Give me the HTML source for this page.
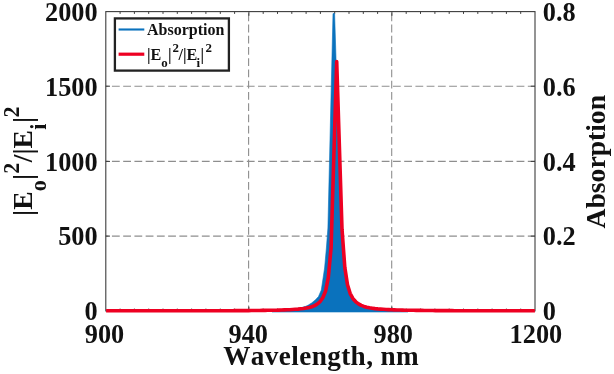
<!DOCTYPE html>
<html><head><meta charset="utf-8"><title>chart</title><style>html,body{margin:0;padding:0;background:#fff}svg{display:block;will-change:transform}</style></head><body>
<svg width="614" height="374" viewBox="0 0 614 374">
<rect width="614" height="374" fill="#fff"/>
<line x1="248.6" y1="11.6" x2="248.6" y2="310.9" stroke="#8e8e8e" stroke-width="1.1" stroke-dasharray="7.8 3.44" stroke-dashoffset="9.5"/>
<line x1="391.7" y1="11.6" x2="391.7" y2="310.9" stroke="#8e8e8e" stroke-width="1.1" stroke-dasharray="7.8 3.44" stroke-dashoffset="9.5"/>
<line x1="105.8" y1="86.2" x2="535.0" y2="86.2" stroke="#8e8e8e" stroke-width="1.1" stroke-dasharray="7.8 3.44" stroke-dashoffset="5.1"/>
<line x1="105.8" y1="161.4" x2="535.0" y2="161.4" stroke="#8e8e8e" stroke-width="1.1" stroke-dasharray="7.8 3.44" stroke-dashoffset="5.1"/>
<line x1="105.8" y1="236.1" x2="535.0" y2="236.1" stroke="#8e8e8e" stroke-width="1.1" stroke-dasharray="7.8 3.44" stroke-dashoffset="5.1"/>
<rect x="105.8" y="11.6" width="429.2" height="299.3" fill="none" stroke="#3c3c3c" stroke-width="1.1"/>
<line x1="120.1" y1="11.6" x2="120.1" y2="13.9" stroke="#3c3c3c" stroke-width="1"/>
<line x1="120.1" y1="310.9" x2="120.1" y2="308.6" stroke="#3c3c3c" stroke-width="1"/>
<line x1="134.4" y1="11.6" x2="134.4" y2="13.9" stroke="#3c3c3c" stroke-width="1"/>
<line x1="134.4" y1="310.9" x2="134.4" y2="308.6" stroke="#3c3c3c" stroke-width="1"/>
<line x1="148.7" y1="11.6" x2="148.7" y2="13.9" stroke="#3c3c3c" stroke-width="1"/>
<line x1="148.7" y1="310.9" x2="148.7" y2="308.6" stroke="#3c3c3c" stroke-width="1"/>
<line x1="163.0" y1="11.6" x2="163.0" y2="13.9" stroke="#3c3c3c" stroke-width="1"/>
<line x1="163.0" y1="310.9" x2="163.0" y2="308.6" stroke="#3c3c3c" stroke-width="1"/>
<line x1="177.3" y1="11.6" x2="177.3" y2="13.9" stroke="#3c3c3c" stroke-width="1"/>
<line x1="177.3" y1="310.9" x2="177.3" y2="308.6" stroke="#3c3c3c" stroke-width="1"/>
<line x1="191.6" y1="11.6" x2="191.6" y2="13.9" stroke="#3c3c3c" stroke-width="1"/>
<line x1="191.6" y1="310.9" x2="191.6" y2="308.6" stroke="#3c3c3c" stroke-width="1"/>
<line x1="205.9" y1="11.6" x2="205.9" y2="13.9" stroke="#3c3c3c" stroke-width="1"/>
<line x1="205.9" y1="310.9" x2="205.9" y2="308.6" stroke="#3c3c3c" stroke-width="1"/>
<line x1="220.3" y1="11.6" x2="220.3" y2="13.9" stroke="#3c3c3c" stroke-width="1"/>
<line x1="220.3" y1="310.9" x2="220.3" y2="308.6" stroke="#3c3c3c" stroke-width="1"/>
<line x1="234.6" y1="11.6" x2="234.6" y2="13.9" stroke="#3c3c3c" stroke-width="1"/>
<line x1="234.6" y1="310.9" x2="234.6" y2="308.6" stroke="#3c3c3c" stroke-width="1"/>
<line x1="248.9" y1="11.6" x2="248.9" y2="15.8" stroke="#3c3c3c" stroke-width="1"/>
<line x1="248.9" y1="310.9" x2="248.9" y2="306.7" stroke="#3c3c3c" stroke-width="1"/>
<line x1="263.2" y1="11.6" x2="263.2" y2="13.9" stroke="#3c3c3c" stroke-width="1"/>
<line x1="263.2" y1="310.9" x2="263.2" y2="308.6" stroke="#3c3c3c" stroke-width="1"/>
<line x1="277.5" y1="11.6" x2="277.5" y2="13.9" stroke="#3c3c3c" stroke-width="1"/>
<line x1="277.5" y1="310.9" x2="277.5" y2="308.6" stroke="#3c3c3c" stroke-width="1"/>
<line x1="291.8" y1="11.6" x2="291.8" y2="13.9" stroke="#3c3c3c" stroke-width="1"/>
<line x1="291.8" y1="310.9" x2="291.8" y2="308.6" stroke="#3c3c3c" stroke-width="1"/>
<line x1="306.1" y1="11.6" x2="306.1" y2="13.9" stroke="#3c3c3c" stroke-width="1"/>
<line x1="306.1" y1="310.9" x2="306.1" y2="308.6" stroke="#3c3c3c" stroke-width="1"/>
<line x1="320.4" y1="11.6" x2="320.4" y2="13.9" stroke="#3c3c3c" stroke-width="1"/>
<line x1="320.4" y1="310.9" x2="320.4" y2="308.6" stroke="#3c3c3c" stroke-width="1"/>
<line x1="334.7" y1="11.6" x2="334.7" y2="13.9" stroke="#3c3c3c" stroke-width="1"/>
<line x1="334.7" y1="310.9" x2="334.7" y2="308.6" stroke="#3c3c3c" stroke-width="1"/>
<line x1="349.0" y1="11.6" x2="349.0" y2="13.9" stroke="#3c3c3c" stroke-width="1"/>
<line x1="349.0" y1="310.9" x2="349.0" y2="308.6" stroke="#3c3c3c" stroke-width="1"/>
<line x1="363.3" y1="11.6" x2="363.3" y2="13.9" stroke="#3c3c3c" stroke-width="1"/>
<line x1="363.3" y1="310.9" x2="363.3" y2="308.6" stroke="#3c3c3c" stroke-width="1"/>
<line x1="377.6" y1="11.6" x2="377.6" y2="13.9" stroke="#3c3c3c" stroke-width="1"/>
<line x1="377.6" y1="310.9" x2="377.6" y2="308.6" stroke="#3c3c3c" stroke-width="1"/>
<line x1="391.9" y1="11.6" x2="391.9" y2="15.8" stroke="#3c3c3c" stroke-width="1"/>
<line x1="391.9" y1="310.9" x2="391.9" y2="306.7" stroke="#3c3c3c" stroke-width="1"/>
<line x1="406.2" y1="11.6" x2="406.2" y2="13.9" stroke="#3c3c3c" stroke-width="1"/>
<line x1="406.2" y1="310.9" x2="406.2" y2="308.6" stroke="#3c3c3c" stroke-width="1"/>
<line x1="420.5" y1="11.6" x2="420.5" y2="13.9" stroke="#3c3c3c" stroke-width="1"/>
<line x1="420.5" y1="310.9" x2="420.5" y2="308.6" stroke="#3c3c3c" stroke-width="1"/>
<line x1="434.9" y1="11.6" x2="434.9" y2="13.9" stroke="#3c3c3c" stroke-width="1"/>
<line x1="434.9" y1="310.9" x2="434.9" y2="308.6" stroke="#3c3c3c" stroke-width="1"/>
<line x1="449.2" y1="11.6" x2="449.2" y2="13.9" stroke="#3c3c3c" stroke-width="1"/>
<line x1="449.2" y1="310.9" x2="449.2" y2="308.6" stroke="#3c3c3c" stroke-width="1"/>
<line x1="463.5" y1="11.6" x2="463.5" y2="13.9" stroke="#3c3c3c" stroke-width="1"/>
<line x1="463.5" y1="310.9" x2="463.5" y2="308.6" stroke="#3c3c3c" stroke-width="1"/>
<line x1="477.8" y1="11.6" x2="477.8" y2="13.9" stroke="#3c3c3c" stroke-width="1"/>
<line x1="477.8" y1="310.9" x2="477.8" y2="308.6" stroke="#3c3c3c" stroke-width="1"/>
<line x1="492.1" y1="11.6" x2="492.1" y2="13.9" stroke="#3c3c3c" stroke-width="1"/>
<line x1="492.1" y1="310.9" x2="492.1" y2="308.6" stroke="#3c3c3c" stroke-width="1"/>
<line x1="506.4" y1="11.6" x2="506.4" y2="13.9" stroke="#3c3c3c" stroke-width="1"/>
<line x1="506.4" y1="310.9" x2="506.4" y2="308.6" stroke="#3c3c3c" stroke-width="1"/>
<line x1="520.7" y1="11.6" x2="520.7" y2="13.9" stroke="#3c3c3c" stroke-width="1"/>
<line x1="520.7" y1="310.9" x2="520.7" y2="308.6" stroke="#3c3c3c" stroke-width="1"/>
<line x1="105.8" y1="86.2" x2="110.0" y2="86.2" stroke="#3c3c3c" stroke-width="1"/>
<line x1="535.0" y1="86.2" x2="530.8" y2="86.2" stroke="#3c3c3c" stroke-width="1"/>
<line x1="105.8" y1="161.4" x2="110.0" y2="161.4" stroke="#3c3c3c" stroke-width="1"/>
<line x1="535.0" y1="161.4" x2="530.8" y2="161.4" stroke="#3c3c3c" stroke-width="1"/>
<line x1="105.8" y1="236.1" x2="110.0" y2="236.1" stroke="#3c3c3c" stroke-width="1"/>
<line x1="535.0" y1="236.1" x2="530.8" y2="236.1" stroke="#3c3c3c" stroke-width="1"/>
<polygon points="272.0,312.0 272.0,311.0 300.0,308.0 305.8,306.3 308.4,305.0 311.6,303.0 315.5,299.8 318.5,296.5 321.3,290.0 324.6,268.0 326.4,248.0 327.9,228.0 333.0,13.6 334.6,13.6 336.1,61.5 341.4,229.2 344.1,267.4 346.9,284.7 349.6,293.6 352.4,298.7 355.1,301.8 357.9,303.9 360.6,305.4 363.4,306.4 366.1,307.2 368.9,307.8 371.6,308.2 374.4,308.6 377.1,308.9 408.0,311.0 408.0,312.0" fill="#0a72bd" stroke="#0a72bd" stroke-width="0.6" stroke-linejoin="round"/>
<polyline points="106.1,310.8 108.3,310.8 111.1,310.8 113.8,310.8 116.6,310.8 119.3,310.8 122.1,310.8 124.8,310.8 127.6,310.8 130.3,310.8 133.1,310.8 135.8,310.8 138.6,310.8 141.3,310.8 144.1,310.8 146.8,310.8 149.6,310.8 152.3,310.8 155.1,310.8 157.8,310.8 160.6,310.8 163.3,310.8 166.1,310.8 168.8,310.8 171.6,310.8 174.3,310.8 177.1,310.8 179.8,310.8 182.6,310.8 185.3,310.8 188.1,310.8 190.8,310.8 193.6,310.8 196.3,310.8 199.1,310.8 201.8,310.8 204.6,310.7 207.3,310.7 210.1,310.7 212.8,310.7 215.6,310.7 218.3,310.7 221.1,310.7 223.8,310.7 226.6,310.7 229.3,310.7 232.1,310.7 234.8,310.6 237.6,310.6 240.3,310.6 243.1,310.6 245.8,310.6 248.6,310.6 251.3,310.5 254.1,310.5 256.8,310.5 259.6,310.5 262.3,310.4 265.1,310.4 267.8,310.3 270.6,310.3 273.3,310.2 276.1,310.2 278.8,310.1 281.6,310.0 284.3,309.9 287.1,309.8 289.8,309.7 292.6,309.5 295.3,309.3 298.1,309.1 300.8,308.8 303.6,308.5 306.3,308.0 309.1,307.4 311.8,306.7 314.6,305.6 317.3,304.0 320.1,301.6 322.8,297.7 325.6,291.0 328.3,277.7 331.1,247.5 336.7,61.5 342.0,229.2 344.8,267.4 347.5,284.7 350.2,293.6 353.0,298.7 355.8,301.8 358.5,303.9 361.2,305.4 364.0,306.4 366.8,307.2 369.5,307.8 372.2,308.2 375.0,308.6 377.8,308.9 380.5,309.1 383.2,309.3 386.0,309.5 388.8,309.6 391.5,309.8 394.2,309.9 397.0,310.0 399.8,310.0 402.5,310.1 405.2,310.2 408.0,310.2 410.8,310.3 413.5,310.3 416.2,310.4 419.0,310.4 421.8,310.4 424.5,310.5 427.2,310.5 430.0,310.5 432.8,310.5 435.5,310.6 438.2,310.6 441.0,310.6 443.8,310.6 446.5,310.6 449.2,310.6 452.0,310.6 454.8,310.7 457.5,310.7 460.2,310.7 463.0,310.7 465.8,310.7 468.5,310.7 471.2,310.7 474.0,310.7 476.8,310.7 479.5,310.7 482.2,310.7 485.0,310.7 487.8,310.8 490.5,310.8 493.2,310.8 496.0,310.8 498.8,310.8 501.5,310.8 504.2,310.8 507.0,310.8 509.8,310.8 512.5,310.8 515.2,310.8 518.0,310.8 520.8,310.8 523.5,310.8 526.2,310.8 529.0,310.8 531.8,310.8 534.9,310.8" fill="none" stroke="#ee0022" stroke-width="3.6" stroke-linejoin="round"/>
<rect x="114.9" y="18.4" width="114" height="52.2" fill="#fff" stroke="#222" stroke-width="2.3"/>
<line x1="118.6" y1="29.5" x2="144.3" y2="29.5" stroke="#0a72bd" stroke-width="2.1"/>
<line x1="118.6" y1="54.2" x2="144.3" y2="54.2" stroke="#ee0022" stroke-width="3.2"/>
<text x="147" y="34.6" font-family="'Liberation Serif', serif" font-weight="bold" fill="#111" style="font-kerning:none" font-size="16">Absorption</text>
<text x="146.9" y="60.1" font-family="'Liberation Serif', serif" font-weight="bold" fill="#111" style="font-kerning:none" font-size="16.2">|E</text>
<text x="161.2" y="66.5" font-family="'Liberation Serif', serif" font-weight="bold" fill="#111" style="font-kerning:none" font-size="12.9">o</text>
<text x="168.0" y="60.1" font-family="'Liberation Serif', serif" font-weight="bold" fill="#111" style="font-kerning:none" font-size="16.2">|</text>
<text x="172.4" y="52.2" font-family="'Liberation Serif', serif" font-weight="bold" fill="#111" style="font-kerning:none" font-size="12.9">2</text>
<text x="178.5" y="60.1" font-family="'Liberation Serif', serif" font-weight="bold" fill="#111" style="font-kerning:none" font-size="16.2">/|E</text>
<text x="196.4" y="66.5" font-family="'Liberation Serif', serif" font-weight="bold" fill="#111" style="font-kerning:none" font-size="12.9">i</text>
<text x="200.4" y="60.1" font-family="'Liberation Serif', serif" font-weight="bold" fill="#111" style="font-kerning:none" font-size="16.2">|</text>
<text x="205.6" y="52.0" font-family="'Liberation Serif', serif" font-weight="bold" fill="#111" style="font-kerning:none" font-size="12.9">2</text>
<text x="97.6" y="20.8" text-anchor="end" font-family="'Liberation Serif', serif" font-weight="bold" fill="#111" style="font-kerning:none" font-size="26.3">2000</text>
<text x="97.6" y="95.7" text-anchor="end" font-family="'Liberation Serif', serif" font-weight="bold" fill="#111" style="font-kerning:none" font-size="26.3">1500</text>
<text x="97.6" y="170.6" text-anchor="end" font-family="'Liberation Serif', serif" font-weight="bold" fill="#111" style="font-kerning:none" font-size="26.3">1000</text>
<text x="97.6" y="245.4" text-anchor="end" font-family="'Liberation Serif', serif" font-weight="bold" fill="#111" style="font-kerning:none" font-size="26.3">500</text>
<text x="97.6" y="320.3" text-anchor="end" font-family="'Liberation Serif', serif" font-weight="bold" fill="#111" style="font-kerning:none" font-size="26.3">0</text>
<text x="542.8" y="20.7" font-family="'Liberation Serif', serif" font-weight="bold" fill="#111" style="font-kerning:none" font-size="26.3">0.8</text>
<text x="542.8" y="95.6" font-family="'Liberation Serif', serif" font-weight="bold" fill="#111" style="font-kerning:none" font-size="26.3">0.6</text>
<text x="542.8" y="170.5" font-family="'Liberation Serif', serif" font-weight="bold" fill="#111" style="font-kerning:none" font-size="26.3">0.4</text>
<text x="542.8" y="245.4" font-family="'Liberation Serif', serif" font-weight="bold" fill="#111" style="font-kerning:none" font-size="26.3">0.2</text>
<text x="542.8" y="320.3" font-family="'Liberation Serif', serif" font-weight="bold" fill="#111" style="font-kerning:none" font-size="26.3">0</text>
<text x="104.5" y="342.8" text-anchor="middle" font-family="'Liberation Serif', serif" font-weight="bold" fill="#111" style="font-kerning:none" font-size="26.3">900</text>
<text x="248.3" y="342.8" text-anchor="middle" font-family="'Liberation Serif', serif" font-weight="bold" fill="#111" style="font-kerning:none" font-size="26.3">940</text>
<text x="393.3" y="342.8" text-anchor="middle" font-family="'Liberation Serif', serif" font-weight="bold" fill="#111" style="font-kerning:none" font-size="26.3">980</text>
<text x="535.9" y="342.8" text-anchor="middle" font-family="'Liberation Serif', serif" font-weight="bold" fill="#111" style="font-kerning:none" font-size="26.3">1200</text>
<text x="223.2" y="365" font-family="'Liberation Serif', serif" font-weight="bold" fill="#111" style="font-kerning:none" font-size="27.2" letter-spacing="0.4">Wavelength, nm</text>
<text transform="translate(604.8,228.4) rotate(-90)" font-family="'Liberation Serif', serif" font-weight="bold" fill="#111" style="font-kerning:none" font-size="27.6">Absorption</text>
<text transform="translate(32.2,215.9) rotate(-90)" font-family="'Liberation Serif', serif" font-weight="bold" fill="#111" style="font-kerning:none" font-size="27.6">|E</text>
<text transform="translate(46.3,191.3) rotate(-90)" font-family="'Liberation Serif', serif" font-weight="bold" fill="#111" style="font-kerning:none" font-size="22.1">o</text>
<text transform="translate(32.2,179.9) rotate(-90)" font-family="'Liberation Serif', serif" font-weight="bold" fill="#111" style="font-kerning:none" font-size="27.6">|</text>
<text transform="translate(19.2,173.7) rotate(-90)" font-family="'Liberation Serif', serif" font-weight="bold" fill="#111" style="font-kerning:none" font-size="22.1">2</text>
<text transform="translate(32.2,162.2) rotate(-90)" font-family="'Liberation Serif', serif" font-weight="bold" fill="#111" style="font-kerning:none" font-size="27.6">/|E</text>
<text transform="translate(46.3,129.8) rotate(-90)" font-family="'Liberation Serif', serif" font-weight="bold" fill="#111" style="font-kerning:none" font-size="22.1">i</text>
<text transform="translate(32.2,123.1) rotate(-90)" font-family="'Liberation Serif', serif" font-weight="bold" fill="#111" style="font-kerning:none" font-size="27.6">|</text>
<text transform="translate(19.2,117.6) rotate(-90)" font-family="'Liberation Serif', serif" font-weight="bold" fill="#111" style="font-kerning:none" font-size="22.1">2</text>
</svg>
</body></html>
